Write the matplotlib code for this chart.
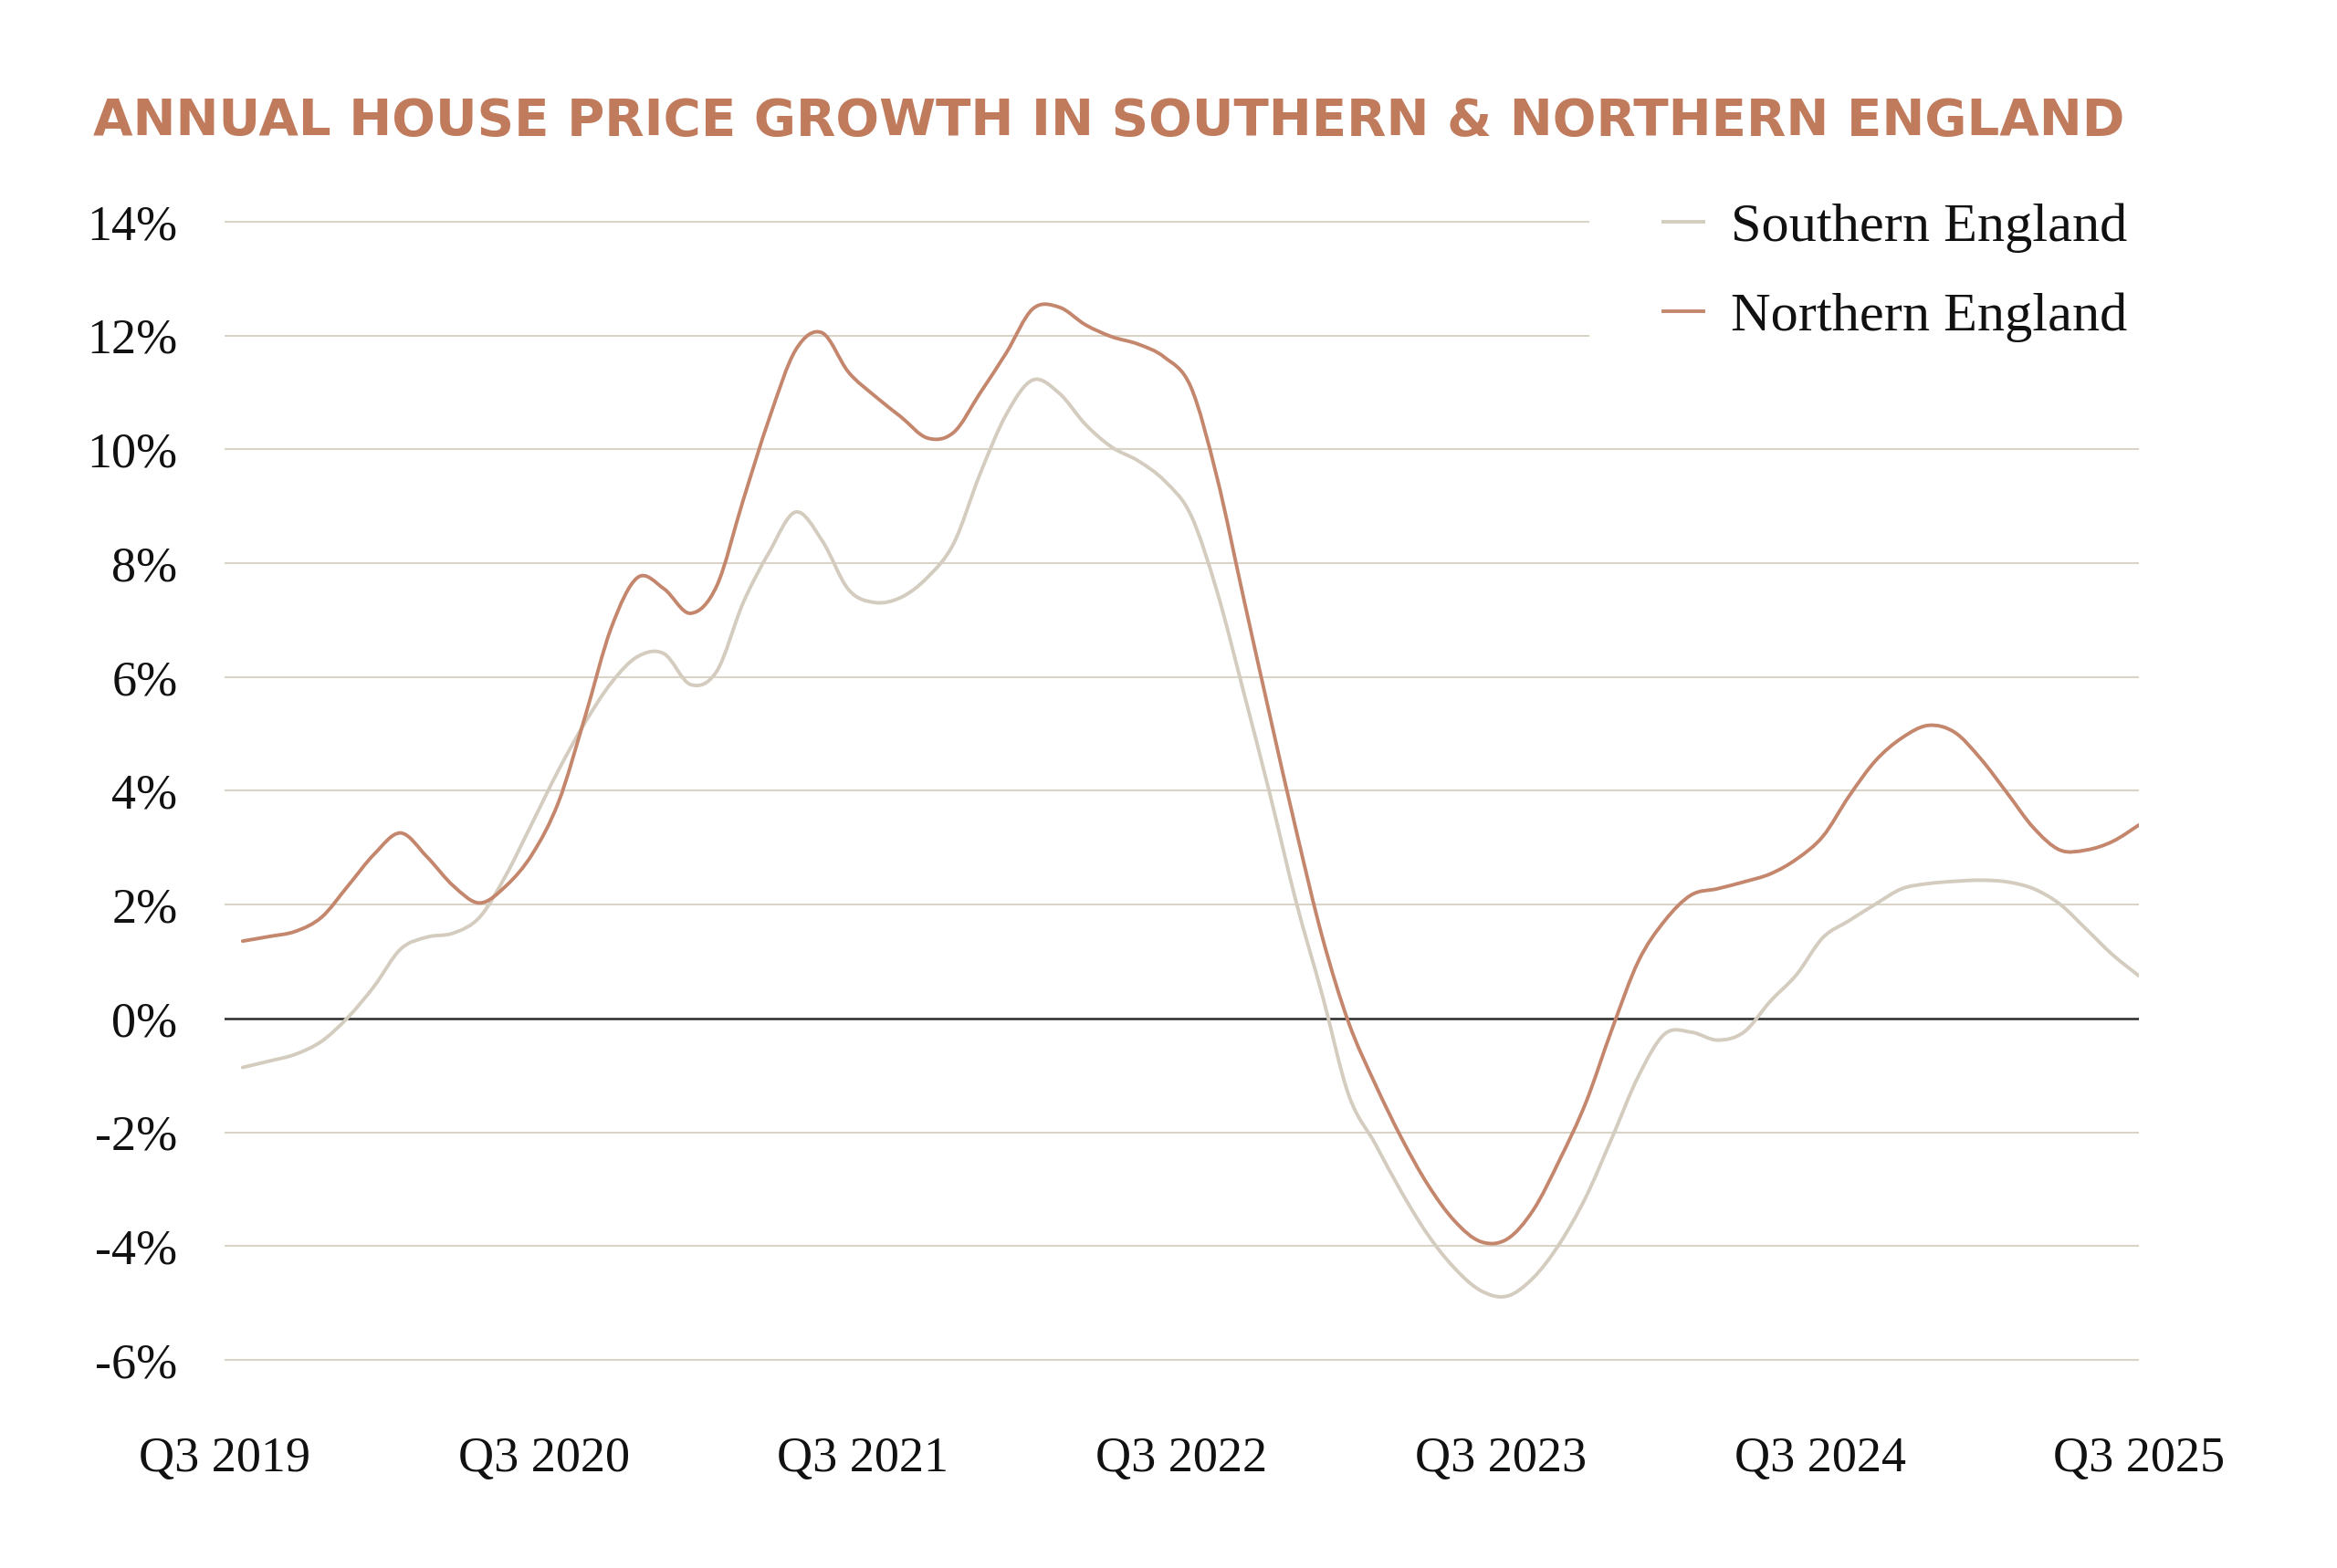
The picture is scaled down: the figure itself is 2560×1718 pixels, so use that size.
import numpy as np
import matplotlib
matplotlib.use("Agg")
import matplotlib.pyplot as plt
from matplotlib.path import Path
from matplotlib.patches import PathPatch
from matplotlib.lines import Line2D

# monthly readings, Q3 2019 .. Q3 2025 (73 points)
MONTHS = np.arange(73)
SOUTH = [-0.86, -0.75, -0.63, -0.40, 0.02, 0.57, 1.22, 1.43, 1.50, 1.78,
         2.52, 3.44, 4.37, 5.20, 5.90, 6.36, 6.41, 5.87, 6.10, 7.30,
         8.20, 8.90, 8.40, 7.54, 7.31, 7.40, 7.75, 8.35, 9.57, 10.62,
         11.22, 10.99, 10.44, 10.04, 9.80, 9.45, 8.85, 7.50, 5.75, 3.95,
         2.05, 0.40, -1.35, -2.20, -3.05, -3.80, -4.38, -4.78, -4.88, -4.56,
         -3.96, -3.14, -2.09, -1.01, -0.27, -0.24, -0.38, -0.24, 0.30, 0.77,
         1.42, 1.72, 2.01, 2.28, 2.37, 2.41, 2.43, 2.40, 2.28, 2.01,
         1.57, 1.12, 0.75]
NORTH = [1.36, 1.44, 1.53, 1.78, 2.33, 2.89, 3.26, 2.84, 2.33, 2.03,
         2.33, 2.89, 3.81, 5.30, 6.87, 7.75, 7.55, 7.12, 7.60, 9.10,
         10.55, 11.75, 12.05, 11.36, 10.94, 10.57, 10.20, 10.30, 10.99, 11.70,
         12.47, 12.50, 12.19, 11.98, 11.85, 11.62, 11.10, 9.50, 7.40, 5.33,
         3.31, 1.42, -0.08, -1.15, -2.10, -2.92, -3.55, -3.92, -3.88, -3.37,
         -2.49, -1.48, -0.18, 1.01, 1.72, 2.17, 2.28, 2.40, 2.54, 2.80,
         3.20, 3.91, 4.53, 4.93, 5.15, 5.03, 4.56, 3.96, 3.35, 2.96,
         2.96, 3.11, 3.40]
XLABELS = ["Q3 2019", "Q3 2020", "Q3 2021", "Q3 2022", "Q3 2023", "Q3 2024", "Q3 2025"]
YTICKS = [-6, -4, -2, 0, 2, 4, 6, 8, 10, 12, 14]

TITLE_C = "#C07A5C"
NORTH_C = "#C4876D"
SOUTH_C = "#D3CCBF"
GRID_C = "#DAD3C7"
SERIF = ["Liberation Serif", "DejaVu Serif"]


def smooth_path(x, y):
    # Catmull-Rom spline through the points, drawn as cubic Bezier segments
    p = np.column_stack([x, y]).astype(float)
    ext = np.vstack([p[0], p, p[-1]])
    verts, codes = [p[0]], [Path.MOVETO]
    for i in range(len(p) - 1):
        p0, p1, p2, p3 = ext[i], ext[i + 1], ext[i + 2], ext[i + 3]
        verts += [p1 + (p2 - p0) / 6, p2 - (p3 - p1) / 6, p2]
        codes += [Path.CURVE4] * 3
    return Path(verts, codes)


W, H = 2560, 1718
fig = plt.figure(figsize=(W / 100, H / 100), dpi=100)
fig.patch.set_facecolor("white")

# axes box in pixels: gridlines span x 246..2343, 14% at y=243, -6% at y=1490
left, right = 246, 2343
y14, ym6 = 243, 1490
per = (ym6 - y14) / 20.0
top_px, bot_px = y14 - per * 0.5, ym6 + per * 0.5
ax = fig.add_axes([left / W, 1 - bot_px / H, (right - left) / W, (bot_px - top_px) / H])

xlo = -0.686
ax.set_xlim(xlo, 72)
ax.set_ylim(-6.5, 14.5)

for v in YTICKS:
    if v == 0:
        continue
    xmax = 0.7125 if v >= 12 else 1.0
    ax.axhline(v, xmin=0, xmax=xmax, color=GRID_C, lw=1.5, zorder=1)
ax.axhline(0, color="#2b2b2b", lw=1.8, zorder=2)

series = [("Southern England", SOUTH, SOUTH_C, 3), ("Northern England", NORTH, NORTH_C, 4)]
handles = []
for name, vals, col, z in series:
    ax.add_patch(PathPatch(smooth_path(MONTHS, vals), fill=False, edgecolor=col,
                           lw=2.8, zorder=z, capstyle="round", joinstyle="round"))
    handles.append(Line2D([], [], color=col, lw=2.8, label=name))

for s in ax.spines.values():
    s.set_visible(False)
ax.set_yticks(YTICKS)
ax.set_yticklabels([f"{v}%" for v in YTICKS], family=SERIF, fontsize=39, color="#111111")
ax.set_xticks(np.linspace(xlo, 72, len(XLABELS)))
ax.set_xticklabels(XLABELS, family=SERIF, fontsize=39, color="#111111")
ax.tick_params(axis="y", length=0, pad=37)
ax.tick_params(axis="x", length=0, pad=38)

leg = ax.legend(handles=handles, loc="upper left", bbox_to_anchor=(1822 / W, 1 - 222 / H),
                bbox_transform=fig.transFigure, frameon=False,
                prop={"family": SERIF, "size": 43.5}, handlelength=0.72,
                handletextpad=0.5, labelspacing=0.70, borderpad=0, borderaxespad=0)
for t in leg.get_texts():
    t.set_color("#111111")

fig.text(102 / W, 1 - 148 / H,
         "ANNUAL HOUSE PRICE GROWTH IN SOUTHERN & NORTHERN ENGLAND",
         family="DejaVu Sans", fontweight="bold", fontsize=40.5, color=TITLE_C,
         ha="left", va="baseline")

fig.savefig("out.png", dpi=100, facecolor="white")
